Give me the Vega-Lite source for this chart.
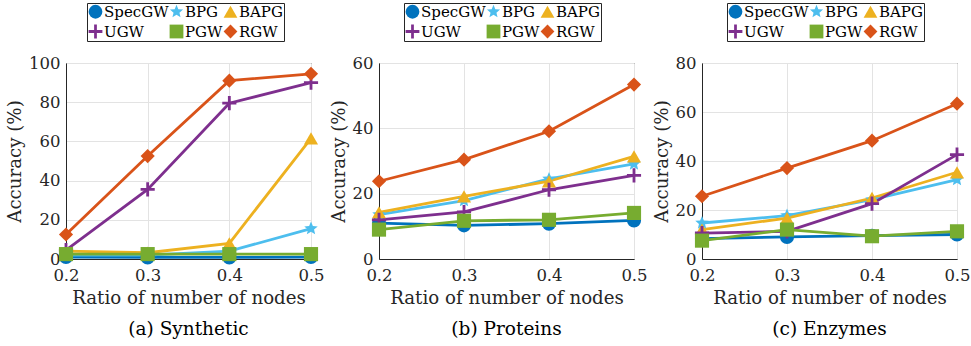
{
  "$schema": "https://vega.github.io/schema/vega-lite/v6.json",
  "padding": {"left": 5, "top": 2, "right": 0, "bottom": 2},
  "spacing": 3,
  "data": {"values": [
    {"d": "a", "m": "SpecGW", "x": 0.2, "y": 1.0}, {"d": "a", "m": "SpecGW", "x": 0.3, "y": 0.8}, {"d": "a", "m": "SpecGW", "x": 0.4, "y": 0.8}, {"d": "a", "m": "SpecGW", "x": 0.5, "y": 1.0},
    {"d": "a", "m": "BPG", "x": 0.2, "y": 2.0}, {"d": "a", "m": "BPG", "x": 0.3, "y": 2.0}, {"d": "a", "m": "BPG", "x": 0.4, "y": 4.0}, {"d": "a", "m": "BPG", "x": 0.5, "y": 15.5},
    {"d": "a", "m": "BAPG", "x": 0.2, "y": 4.0}, {"d": "a", "m": "BAPG", "x": 0.3, "y": 3.2}, {"d": "a", "m": "BAPG", "x": 0.4, "y": 8.0}, {"d": "a", "m": "BAPG", "x": 0.5, "y": 61.5},
    {"d": "a", "m": "UGW", "x": 0.2, "y": 4.5}, {"d": "a", "m": "UGW", "x": 0.3, "y": 35.5}, {"d": "a", "m": "UGW", "x": 0.4, "y": 79.5}, {"d": "a", "m": "UGW", "x": 0.5, "y": 90.0},
    {"d": "a", "m": "PGW", "x": 0.2, "y": 2.5}, {"d": "a", "m": "PGW", "x": 0.3, "y": 2.5}, {"d": "a", "m": "PGW", "x": 0.4, "y": 2.5}, {"d": "a", "m": "PGW", "x": 0.5, "y": 2.5},
    {"d": "a", "m": "RGW", "x": 0.2, "y": 12.5}, {"d": "a", "m": "RGW", "x": 0.3, "y": 52.5}, {"d": "a", "m": "RGW", "x": 0.4, "y": 91.0}, {"d": "a", "m": "RGW", "x": 0.5, "y": 94.5},

    {"d": "b", "m": "SpecGW", "x": 0.2, "y": 11.0}, {"d": "b", "m": "SpecGW", "x": 0.3, "y": 10.3}, {"d": "b", "m": "SpecGW", "x": 0.4, "y": 10.8}, {"d": "b", "m": "SpecGW", "x": 0.5, "y": 11.8},
    {"d": "b", "m": "BPG", "x": 0.2, "y": 13.6}, {"d": "b", "m": "BPG", "x": 0.3, "y": 17.9}, {"d": "b", "m": "BPG", "x": 0.4, "y": 24.5}, {"d": "b", "m": "BPG", "x": 0.5, "y": 29.1},
    {"d": "b", "m": "BAPG", "x": 0.2, "y": 14.3}, {"d": "b", "m": "BAPG", "x": 0.3, "y": 19.2}, {"d": "b", "m": "BAPG", "x": 0.4, "y": 23.8}, {"d": "b", "m": "BAPG", "x": 0.5, "y": 31.4},
    {"d": "b", "m": "UGW", "x": 0.2, "y": 12.0}, {"d": "b", "m": "UGW", "x": 0.3, "y": 14.4}, {"d": "b", "m": "UGW", "x": 0.4, "y": 21.2}, {"d": "b", "m": "UGW", "x": 0.5, "y": 25.6},
    {"d": "b", "m": "PGW", "x": 0.2, "y": 9.0}, {"d": "b", "m": "PGW", "x": 0.3, "y": 11.7}, {"d": "b", "m": "PGW", "x": 0.4, "y": 12.0}, {"d": "b", "m": "PGW", "x": 0.5, "y": 14.1},
    {"d": "b", "m": "RGW", "x": 0.2, "y": 23.8}, {"d": "b", "m": "RGW", "x": 0.3, "y": 30.4}, {"d": "b", "m": "RGW", "x": 0.4, "y": 39.1}, {"d": "b", "m": "RGW", "x": 0.5, "y": 53.4},

    {"d": "c", "m": "SpecGW", "x": 0.2, "y": 8.3}, {"d": "c", "m": "SpecGW", "x": 0.3, "y": 9.0}, {"d": "c", "m": "SpecGW", "x": 0.4, "y": 9.5}, {"d": "c", "m": "SpecGW", "x": 0.5, "y": 10.0},
    {"d": "c", "m": "BPG", "x": 0.2, "y": 14.7}, {"d": "c", "m": "BPG", "x": 0.3, "y": 17.7}, {"d": "c", "m": "BPG", "x": 0.4, "y": 24.2}, {"d": "c", "m": "BPG", "x": 0.5, "y": 32.4},
    {"d": "c", "m": "BAPG", "x": 0.2, "y": 12.0}, {"d": "c", "m": "BAPG", "x": 0.3, "y": 16.7}, {"d": "c", "m": "BAPG", "x": 0.4, "y": 24.9}, {"d": "c", "m": "BAPG", "x": 0.5, "y": 35.4},
    {"d": "c", "m": "UGW", "x": 0.2, "y": 10.6}, {"d": "c", "m": "UGW", "x": 0.3, "y": 11.3}, {"d": "c", "m": "UGW", "x": 0.4, "y": 22.6}, {"d": "c", "m": "UGW", "x": 0.5, "y": 42.6},
    {"d": "c", "m": "PGW", "x": 0.2, "y": 7.5}, {"d": "c", "m": "PGW", "x": 0.3, "y": 12.0}, {"d": "c", "m": "PGW", "x": 0.4, "y": 9.3}, {"d": "c", "m": "PGW", "x": 0.5, "y": 11.3},
    {"d": "c", "m": "RGW", "x": 0.2, "y": 25.6}, {"d": "c", "m": "RGW", "x": 0.3, "y": 37.1}, {"d": "c", "m": "RGW", "x": 0.4, "y": 48.3}, {"d": "c", "m": "RGW", "x": 0.5, "y": 63.4}
  ]},
  "resolve": {"legend": {"color": "independent", "shape": "independent"}, "scale": {"y": "independent"}},
  "hconcat": [
    {
      "width": 245, "height": 196,
      "title": {"text": "(a)  Synthetic", "orient": "bottom"},
      "transform": [{"filter": "datum.d === 'a'"}],
      "encoding": {
        "x": {"field": "x", "type": "quantitative", "scale": {"domain": [0.2, 0.5], "nice": false}, "axis": {"values": [0.2, 0.3, 0.4, 0.5], "format": ".1f", "title": "Ratio of number of nodes"}},
        "y": {"field": "y", "type": "quantitative", "scale": {"domain": [0, 100], "nice": false}, "axis": {"values": [0, 20, 40, 60, 80, 100], "title": "Accuracy (%)"}}
      },
      "layer": [
        {"mark": {"type": "line", "strokeWidth": 2.8}, "encoding": {"stroke": {"field": "m", "type": "nominal", "legend": null, "scale": {"domain": ["SpecGW", "BPG", "BAPG", "UGW", "PGW", "RGW"], "range": ["#0072BD", "#4DBEEE", "#EDB120", "#7E2F8E", "#77AC30", "#D95319"]}}}},
        {"mark": {"type": "point", "filled": true, "size": 200, "opacity": 1},
         "encoding": {
           "color": {"field": "m", "type": "nominal", "title": null, "scale": {"domain": ["SpecGW", "BPG", "BAPG", "UGW", "PGW", "RGW"], "range": ["#0072BD", "#4DBEEE", "#EDB120", "#7E2F8E", "#77AC30", "#D95319"]}, "legend": {"orient": "none", "legendX": 21, "legendY": -60}},
           "shape": {"field": "m", "type": "nominal", "title": null, "scale": {"domain": ["SpecGW", "BPG", "BAPG", "UGW", "PGW", "RGW"], "range": ["circle", "M0,-1L0.265,-0.364L0.951,-0.309L0.428,0.139L0.588,0.809L0,0.45L-0.588,0.809L-0.428,0.139L-0.951,-0.309L-0.265,-0.364Z", "triangle-up", "M-1,-0.2H-0.2V-1H0.2V-0.2H1V0.2H0.2V1H-0.2V0.2H-1Z", "square", "diamond"]}, "legend": {"orient": "none", "legendX": 21, "legendY": -60}}
         }}
      ]
    },
    {
      "width": 255, "height": 196,
      "title": {"text": "(b)  Proteins", "orient": "bottom"},
      "transform": [{"filter": "datum.d === 'b'"}],
      "encoding": {
        "x": {"field": "x", "type": "quantitative", "scale": {"domain": [0.2, 0.5], "nice": false}, "axis": {"values": [0.2, 0.3, 0.4, 0.5], "format": ".1f", "title": "Ratio of number of nodes"}},
        "y": {"field": "y", "type": "quantitative", "scale": {"domain": [0, 60], "nice": false}, "axis": {"values": [0, 20, 40, 60], "title": "Accuracy (%)"}}
      },
      "layer": [
        {"mark": {"type": "line", "strokeWidth": 2.8}, "encoding": {"stroke": {"field": "m", "type": "nominal", "legend": null, "scale": {"domain": ["SpecGW", "BPG", "BAPG", "UGW", "PGW", "RGW"], "range": ["#0072BD", "#4DBEEE", "#EDB120", "#7E2F8E", "#77AC30", "#D95319"]}}}},
        {"mark": {"type": "point", "filled": true, "size": 200, "opacity": 1},
         "encoding": {
           "color": {"field": "m", "type": "nominal", "title": null, "scale": {"domain": ["SpecGW", "BPG", "BAPG", "UGW", "PGW", "RGW"], "range": ["#0072BD", "#4DBEEE", "#EDB120", "#7E2F8E", "#77AC30", "#D95319"]}, "legend": {"orient": "none", "legendX": 25, "legendY": -60}},
           "shape": {"field": "m", "type": "nominal", "title": null, "scale": {"domain": ["SpecGW", "BPG", "BAPG", "UGW", "PGW", "RGW"], "range": ["circle", "M0,-1L0.265,-0.364L0.951,-0.309L0.428,0.139L0.588,0.809L0,0.45L-0.588,0.809L-0.428,0.139L-0.951,-0.309L-0.265,-0.364Z", "triangle-up", "M-1,-0.2H-0.2V-1H0.2V-0.2H1V0.2H0.2V1H-0.2V0.2H-1Z", "square", "diamond"]}, "legend": {"orient": "none", "legendX": 25, "legendY": -60}}
         }}
      ]
    },
    {
      "width": 255, "height": 196,
      "title": {"text": "(c)  Enzymes", "orient": "bottom"},
      "transform": [{"filter": "datum.d === 'c'"}],
      "encoding": {
        "x": {"field": "x", "type": "quantitative", "scale": {"domain": [0.2, 0.5], "nice": false}, "axis": {"values": [0.2, 0.3, 0.4, 0.5], "format": ".1f", "title": "Ratio of number of nodes"}},
        "y": {"field": "y", "type": "quantitative", "scale": {"domain": [0, 80], "nice": false}, "axis": {"values": [0, 20, 40, 60, 80], "title": "Accuracy (%)"}}
      },
      "layer": [
        {"mark": {"type": "line", "strokeWidth": 2.8}, "encoding": {"stroke": {"field": "m", "type": "nominal", "legend": null, "scale": {"domain": ["SpecGW", "BPG", "BAPG", "UGW", "PGW", "RGW"], "range": ["#0072BD", "#4DBEEE", "#EDB120", "#7E2F8E", "#77AC30", "#D95319"]}}}},
        {"mark": {"type": "point", "filled": true, "size": 200, "opacity": 1},
         "encoding": {
           "color": {"field": "m", "type": "nominal", "title": null, "scale": {"domain": ["SpecGW", "BPG", "BAPG", "UGW", "PGW", "RGW"], "range": ["#0072BD", "#4DBEEE", "#EDB120", "#7E2F8E", "#77AC30", "#D95319"]}, "legend": {"orient": "none", "legendX": 25, "legendY": -60}},
           "shape": {"field": "m", "type": "nominal", "title": null, "scale": {"domain": ["SpecGW", "BPG", "BAPG", "UGW", "PGW", "RGW"], "range": ["circle", "M0,-1L0.265,-0.364L0.951,-0.309L0.428,0.139L0.588,0.809L0,0.45L-0.588,0.809L-0.428,0.139L-0.951,-0.309L-0.265,-0.364Z", "triangle-up", "M-1,-0.2H-0.2V-1H0.2V-0.2H1V0.2H0.2V1H-0.2V0.2H-1Z", "square", "diamond"]}, "legend": {"orient": "none", "legendX": 25, "legendY": -60}}
         }}
      ]
    }
  ],
  "config": {
    "font": "DejaVu Serif",
    "background": "white",
    "view": {"stroke": "#262626", "strokeWidth": 1},
    "title": {"fontSize": 18.5, "fontWeight": "normal", "color": "#000000", "offset": 13, "font": "DejaVu Serif"},
    "axis": {
      "labelFont": "DejaVu Serif", "titleFont": "DejaVu Serif",
      "labelFontSize": 16.5, "titleFontSize": 18.2, "titleFontWeight": "normal",
      "labelColor": "#262626", "titleColor": "#262626",
      "domainColor": "#262626", "gridColor": "#e3e3e3", "gridWidth": 1,
      "ticks": false, "labelFlush": false, "labelOverlap": false,
      "labelPadding": 8, "titlePadding": 6
    },
    "axisY": {"labelPadding": 6, "titlePadding": 4},
    "legend": {
      "direction": "horizontal", "columns": 3, "gridAlign": "each",
      "strokeColor": "#262626", "fillColor": "white", "padding": 1,
      "labelFont": "DejaVu Serif", "labelFontSize": 15, "labelColor": "#000000",
      "symbolSize": 190, "symbolStrokeWidth": 0, "columnPadding": -4, "rowPadding": 4, "labelOffset": 1
    }
  }
}
